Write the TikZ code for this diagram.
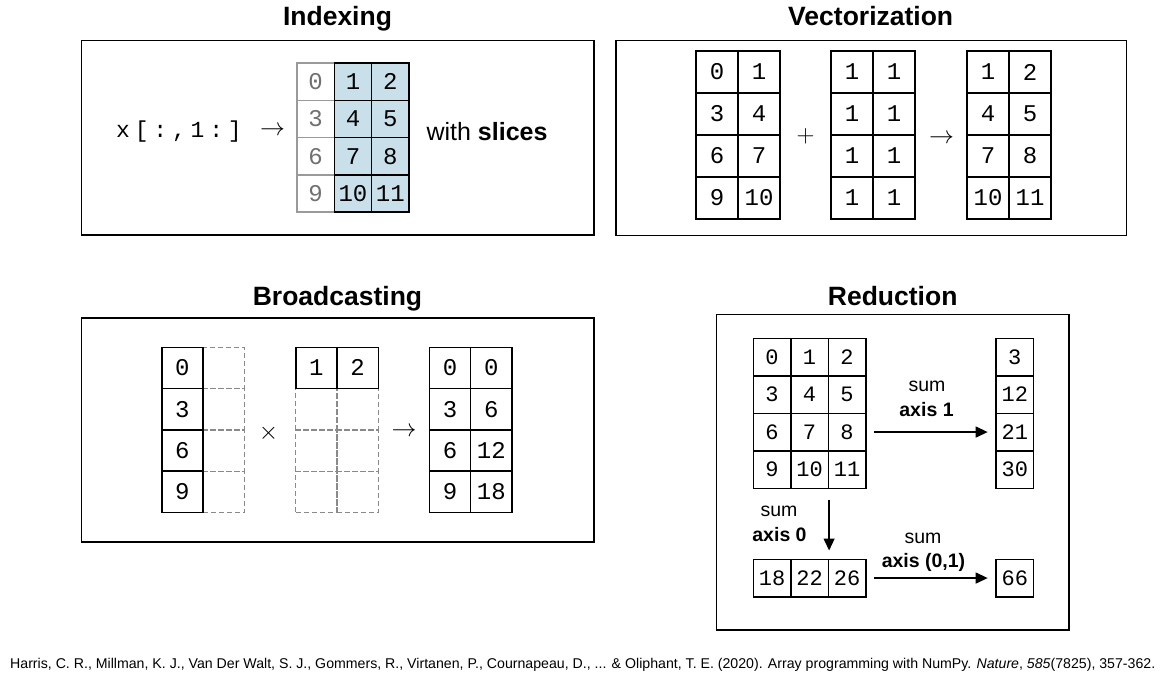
\documentclass[tikz,border=0pt]{standalone}
\usepackage{fontspec}
\setmainfont{Liberation Sans}
\setmonofont{Liberation Mono}
\usetikzlibrary{arrows.meta,calc}
\definecolor{slice}{HTML}{C9E0EB}
\definecolor{dimline}{HTML}{9A9A9A}
\definecolor{dimtext}{HTML}{707070}
\definecolor{dashgray}{HTML}{8A8A8A}
\newcommand{\cellfont}{\fontsize{24}{24}\selectfont\ttfamily}
\newcommand{\smcellfont}{\fontsize{22}{22}\selectfont\ttfamily}
\begin{document}
\begin{tikzpicture}[x=1pt,y=-1pt,
  panel/.style={draw=black,line width=1.2pt},
  title/.style={anchor=base,font=\fontsize{26.5}{30}\selectfont\bfseries},
  cellbase/.style={rectangle,inner sep=0pt,line width=1.6pt,text=black},
  cellA/.style={cellbase,draw=black,minimum width=37.3pt,minimum height=37.3pt,font=\cellfont},
  cellAdim/.style={cellbase,draw=dimline,minimum width=37.3pt,minimum height=37.3pt,font=\cellfont,text=dimtext},
  cellAsl/.style={cellA,fill=slice},
  cellV/.style={cellbase,draw=black,minimum width=42pt,minimum height=42pt,font=\cellfont},
  cellB/.style={cellbase,draw=black,minimum width=41.3pt,minimum height=41.3pt,font=\cellfont},
  cellBd/.style={rectangle,inner sep=0pt,draw=dashgray,line width=1.3pt,dash pattern=on 5pt off 3pt,minimum width=41.3pt,minimum height=41.3pt},
  cellR/.style={cellbase,draw=black,minimum width=37.5pt,minimum height=37.5pt,font=\smcellfont},
  op/.style={inner sep=0pt,font=\fontsize{30}{30}\selectfont},
  lbl/.style={anchor=base,font=\fontsize{19.5}{22}\selectfont},
  lblb/.style={anchor=base,font=\fontsize{19.5}{22}\selectfont\bfseries},
  redarrow/.style={line width=1.3pt,-{Triangle[length=12pt,width=11pt]}}
]
\useasboundingbox (0,0) rectangle (1170,680);
\fill[white] (0,0) rectangle (1170,680);

% ---------------- Indexing ----------------
\node[title] (t-ix) at (337.5,25) {Indexing};
\draw[panel] (81.5,40.5) rectangle (594,235);
\foreach \r in {0,...,3}{
  \pgfmathtruncatemacro\v{3*\r}
  \node[cellAdim] (ix-\r-0) at ({297+37.3*0.5},{63+37.3*(\r+0.5)}) {\v};
}
\foreach \r in {0,...,3}{
  \foreach \c in {1,2}{
    \pgfmathtruncatemacro\v{3*\r+\c}
    \node[cellAsl] (ix-\r-\c) at ({297+37.3*(\c+0.5)},{63+37.3*(\r+0.5)}) {\v};
  }
}
\node[anchor=base,inner sep=0pt,font=\fontsize{23}{23}\selectfont\ttfamily\addfontfeature{LetterSpace=21}] (ix-code) at (179,137.3) {x[:,1:]};
\node[op] (ix-arrow) at (272.5,130.5) {$\rightarrow$};
\node[anchor=base,inner sep=0pt,font=\fontsize{25}{25}\selectfont] (ix-with) at (487,140.5) {with \textbf{slices}};

% ---------------- Vectorization ----------------
\node[title] (t-vec) at (870.7,25) {Vectorization};
\draw[panel] (616,40.5) rectangle (1126.5,235.5);
\foreach \r in {0,...,3}{
  \foreach \c in {0,1}{
    \pgfmathtruncatemacro\v{3*\r+\c}
    \pgfmathtruncatemacro\w{3*\r+\c+1}
    \node[cellV] (va-\r-\c) at ({696+42*(\c+0.5)},{51+42*(\r+0.5)}) {\v};
    \node[cellV] (vb-\r-\c) at ({831+42*(\c+0.5)},{51+42*(\r+0.5)}) {1};
    \node[cellV] (vc-\r-\c) at ({967+42*(\c+0.5)},{51+42*(\r+0.5)}) {\w};
  }
}
\node[op,font=\fontsize{32}{32}\selectfont] (v-plus) at (805.5,136.5) {$+$};
\node[op] (v-arrow) at (941.5,138.5) {$\rightarrow$};

% ---------------- Broadcasting ----------------
\node[title] (t-br) at (337.5,305) {Broadcasting};
\draw[panel] (81.5,318) rectangle (594,542);
% dashed ghosts
\foreach \r in {0,...,3}{
  \node[cellBd] (ba-\r-1) at ({161.7+41.3*1.5},{347.3+41.3*(\r+0.5)}) {};
}
\foreach \r in {1,2,3}{
  \foreach \c in {0,1}{
    \node[cellBd] (bb-\r-\c) at ({295.7+41.3*(\c+0.5)},{347.3+41.3*(\r+0.5)}) {};
  }
}
\foreach \r in {0,...,3}{
  \pgfmathtruncatemacro\v{3*\r}
  \node[cellB] (ba-\r-0) at ({161.7+41.3*0.5},{347.3+41.3*(\r+0.5)}) {\v};
  \foreach \c in {0,1}{
    \pgfmathtruncatemacro\w{3*\r*(\c+1)}
    \node[cellB] (bc-\r-\c) at ({429.3+41.3*(\c+0.5)},{347.3+41.3*(\r+0.5)}) {\w};
  }
}
\node[cellB] (bb-0-0) at ({295.7+41.3*0.5},{347.3+41.3*0.5}) {1};
\node[cellB] (bb-0-1) at ({295.7+41.3*1.5},{347.3+41.3*0.5}) {2};
\node[op] (b-times) at (268.5,433) {$\times$};
\node[op] (b-arrow) at (404,431.5) {$\rightarrow$};

% ---------------- Reduction ----------------
\node[title] (t-red) at (892.7,305) {Reduction};
\draw[panel] (716.7,314.5) rectangle (1069,630);
\foreach \r in {0,...,3}{
  \foreach \c in {0,1,2}{
    \pgfmathtruncatemacro\v{3*\r+\c}
    \node[cellR] (rg-\r-\c) at ({753.3+37.5*(\c+0.5)},{338.3+37.5*(\r+0.5)}) {\v};
  }
  \pgfmathtruncatemacro\s{9*\r+3}
  \node[cellR] (rs-\r) at ({996+37.5*0.5},{338.3+37.5*(\r+0.5)}) {\s};
}
\foreach \c in {0,1,2}{
  \pgfmathtruncatemacro\s{18+4*\c}
  \node[cellR] (rc-\c) at ({753.3+37.5*(\c+0.5)},{559.3+37.5*0.5}) {\s};
}
\node[cellR] (rt) at ({996+37.5*0.5},{559.3+37.5*0.5}) {66};

\draw[redarrow] ([xshift=7.5pt]rg-2-2.east) -- ([xshift=-7.5pt]rs-2.west);
\draw[redarrow] ([yshift=-11pt]rg-3-1.south east) -- ([yshift=8pt]rc-1.north east);
\draw[redarrow] ([xshift=7.5pt]rc-2.east) -- ([xshift=-7.5pt]rt.west);

\node[lbl]  (l1a) at (927,391) {sum};
\node[lblb] (l1b) at (926.5,416) {axis 1};
\node[lbl]  (l0a) at (779,516) {sum};
\node[lblb] (l0b) at (779.5,541) {axis 0};
\node[lbl]  (l2a) at (923,543) {sum};
\node[lblb] (l2b) at (923.5,567) {axis (0,1)};

% ---------------- Citation ----------------
\node[anchor=base west,inner sep=0pt,font=\fontsize{14.15}{16}\selectfont] (cite) at (10,668)
  {Harris, C. R., Millman, K. J., Van Der Walt, S. J., Gommers, R., Virtanen, P., Cournapeau, D., ... \& Oliphant, T. E. (2020). Array programming with NumPy. \textit{Nature}, \textit{585}(7825), 357-362.};
\end{tikzpicture}
\end{document}
